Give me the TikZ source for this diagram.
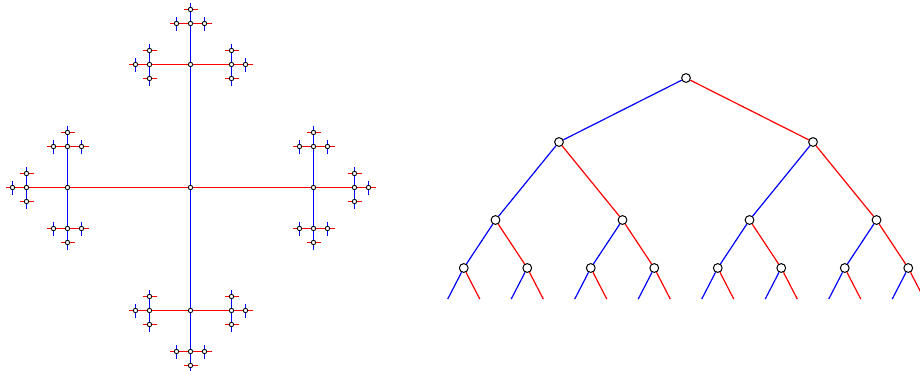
\documentclass[tikz,border=0pt]{standalone}
\usepackage{tikz}
\usetikzlibrary{calc}

\tikzset{
  dot/.style={circle,draw,fill=white,inner sep=0pt,minimum size=2.2pt,line width=0.4pt},
  knot/.style={circle,draw,fill=white,inner sep=0pt,minimum size=4.4pt,line width=0.5pt},
  gen/.style={line width=0.6pt}
}

\begin{document}
\begin{tikzpicture}[x=0.5pt,y=-0.5pt]
    \useasboundingbox (0,0) rectangle (920,370);

    % Cayley graph
    \node[dot] (c) at (190.5,187.5) {};
    \foreach \i/\dxi/\dyi/\ci/\oi in {0/1/0/red/2,1/0/-1/blue/3,2/-1/0/red/0,3/0/1/blue/1} {
        \node[dot] (c\i) at ($(c)+(123*\dxi,123*\dyi)$) {};
        \draw[gen,draw=\ci] (c) -- (c\i);
        \foreach \j/\dxj/\dyj/\cj/\oj in {0/1/0/red/2,1/0/-1/blue/3,2/-1/0/red/0,3/0/1/blue/1} {
            \ifnum\j=\oi\else
                \node[dot] (c\i\j) at ($(c\i)+(41*\dxj,41*\dyj)$) {};
                \draw[gen,draw=\cj] (c\i) -- (c\i\j);
                \foreach \k/\dxk/\dyk/\ck/\ok in {0/1/0/red/2,1/0/-1/blue/3,2/-1/0/red/0,3/0/1/blue/1} {
                    \ifnum\k=\oj\else
                        \node[dot] (c\i\j\k) at ($(c\i\j)+(14*\dxk,14*\dyk)$) {};
                        \draw[gen,draw=\ck] (c\i\j) -- (c\i\j\k);
                        \foreach \m/\dxm/\dym/\cm in {0/1/0/red,1/0/-1/blue,2/-1/0/red,3/0/1/blue} {
                            \ifnum\m=\ok\else
                                \coordinate (e\i\j\k\m) at ($(c\i\j\k)+(7*\dxm,7*\dym)$);
                                \draw[gen,draw=\cm] (c\i\j\k) -- (e\i\j\k\m);
                            \fi
                        }
                    \fi
                }
            \fi
        }
    }

    % binary tree
    \node[knot] (t) at (686,78) {};
    \foreach \i/\si/\ci in {0/-1/blue,1/1/red} {
        \node[knot] (t\i) at ($(t)+(\si*127,64)$) {};
        \draw[gen,draw=\ci] (t) -- (t\i);
        \foreach \j/\sj/\cj in {0/-1/blue,1/1/red} {
            \node[knot] (t\i\j) at ($(t\i)+(\sj*63.5,78)$) {};
            \draw[gen,draw=\cj] (t\i) -- (t\i\j);
            \foreach \k/\sk/\ck in {0/-1/blue,1/1/red} {
                \node[knot] (t\i\j\k) at ($(t\i\j)+(\sk*31.75,48)$) {};
                \draw[gen,draw=\ck] (t\i\j) -- (t\i\j\k);
                \foreach \m/\sm/\cm in {0/-1/blue,1/1/red} {
                    \coordinate (u\i\j\k\m) at ($(t\i\j\k)+(\sm*16,31)$);
                    \draw[gen,draw=\cm] (t\i\j\k) -- (u\i\j\k\m);
                }
            }
        }
    }
\end{tikzpicture}
\end{document}
